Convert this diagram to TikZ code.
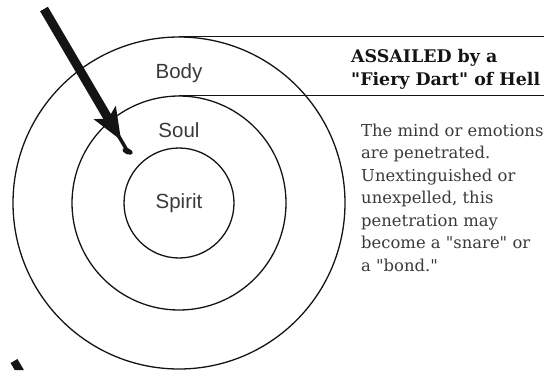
\documentclass[tikz,border=0pt]{standalone}
\usepackage{fontspec}
\setmainfont{DejaVu Serif}
\newfontfamily\fdsans{Liberation Sans}
\definecolor{fdInk}{HTML}{141414}
\definecolor{fdGray}{HTML}{3A3A3A}
\newcommand\fdq{\textquotedbl}
\tikzset{
  fd ring/.style={circle, draw=fdInk, line width=1.3pt, inner sep=0pt},
  fd rule/.style={draw=fdInk, line width=1.4pt},
  fd label/.style={font=\fdsans\fontsize{20.5}{24}\selectfont, text=fdGray, anchor=base, inner sep=0pt},
  fd head/.style={font=\bfseries\fontsize{17.4}{23}\selectfont, text=fdInk, align=left, anchor=base west, inner sep=0pt},
  fd text/.style={font=\fontsize{16.4}{22.5}\selectfont, text=fdGray, align=left, anchor=base west, inner sep=0pt},
  fd dart/.style={fill=fdInk, draw=none},
}
\begin{document}
\begin{tikzpicture}[x=1pt,y=-1pt]
  \useasboundingbox (0,0) rectangle (544,370);
  % Three rings round one centre
  \coordinate (centre) at (179,203);
  \node[fd ring, minimum size=332pt] (body) at (centre) {};
  \node[fd ring, minimum size=214pt] (soul) at (centre) {};
  \node[fd ring, minimum size=110pt] (spirit) at (centre) {};
  \node[fd label] (body label) at (179,78) {Body};
  \node[fd label] (soul label) at (179,137) {Soul};
  \node[fd label] (spirit label) at (179,208) {Spirit};
  % Rules from the ring tops out to the right edge
  \coordinate (edge) at (544,0);
  \draw[fd rule] (body.north) -- (body.north -| edge);
  \draw[fd rule] (soul.north) -- (soul.north -| edge);
  % Heading between the rules, note below (base = last line)
  \node[fd head] (heading) at (351,85) {ASSAILED by a\\\fdq Fiery Dart\fdq{} of Hell};
  \node[fd text] (note) at (361,271) {The mind or emotions\\are penetrated.\\Unextinguished or\\unexpelled, this\\penetration may\\become a \fdq snare\fdq{} or\\a \fdq bond.\fdq};
  % The dart: shaft, head, neck and blob at the tip
  \coordinate (dart tail) at (44,9);
  \coordinate (dart neck) at (108.8,119.4);
  \draw[fdInk, line width=9pt] (dart tail) -- (dart neck);
  \fill[fd dart] (115.8,105.6) -- (121.0,140.1) -- (93.6,119.2) -- (108.3,118.5) -- cycle;
  \draw[fdInk, line width=3.5pt] (117.5,134.1) -- (126.6,149.6);
  \fill[fd dart, rotate around={-22:(127.6,151.3)}] (127.6,151.3) ellipse [x radius=5.5, y radius=3];
  % Second dart, cut off at the bottom
  \fill[fd dart] (10.6,363) -- (17.4,359) -- (23.9,370) -- (14.7,370) -- cycle;
\end{tikzpicture}
\end{document}
